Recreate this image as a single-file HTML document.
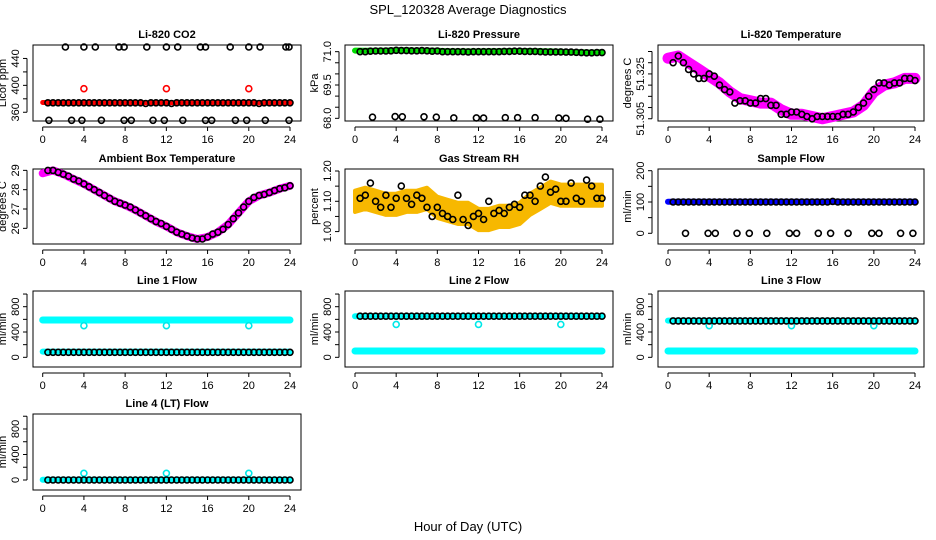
<!DOCTYPE html>
<html><head><meta charset="utf-8"><style>
html,body{margin:0;padding:0;background:#fff;}
svg{display:block;font-family:"Liberation Sans",sans-serif;}
</style></head><body>
<svg id="c" width="936" height="540" viewBox="0 0 936 540" xmlns="http://www.w3.org/2000/svg">
<text x="468" y="14" text-anchor="middle" font-size="13">SPL_120328  Average Diagnostics</text>
<text x="468" y="531" text-anchor="middle" font-size="13">Hour of Day (UTC)</text>
</svg>
<script>
// ---- data ----
const hours = [0,1,2,3,4,5,6,7,8,9,10,11,12,13,14,15,16,17,18,19,20,21,22,23,24];
const bt = [0.5,1,1.5,2,2.5,3,3.5,4,4.5,5,5.5,6,6.5,7,7.5,8,8.5,9,9.5,10,10.5,11,11.5,12,12.5,13,13.5,14,14.5,15,15.5,16,16.5,17,17.5,18,18.5,19,19.5,20,20.5,21,21.5,22,22.5,23,23.5,24];
const xTicks = [0,4,8,12,16,20,24];

const co2Band = [374.5,374.5,374.5,374.5,374.5,374.5,374.5,374.5,374.5,374,374,374,374,374,374,374,374,374,374,374,374,374,374,374,374];
const co2Black = [374,374,374,374,374,374,374,374,374,374,374,374,374,374,374,374,374,374,374,373,374,374,374,374,373,374,374,374,374,374,374,374,374,374,374,374,374,374,374,374,374,373,374,374,374,374,374,374];
const co2RedOutT = [4,12,20];
const co2RedOut = [395,395,395];
const co2HighT = [2.2,4,5.1,7.4,7.9,10.1,12,13.1,15.3,15.8,18.2,20,21.1,23.6,23.9];
const co2High = [457,457,457,457,457,457,457,457,457,457,457,457,457,457,457];
const co2LowT = [0.6,2.8,3.8,5.7,7.9,8.6,10.7,11.8,13.6,15.8,16.4,18.7,19.8,21.6,23.9];
const co2Low = [348,348,348,348,348,348,348,348,348,348,348,348,348,348,348];

const presBand = [71.05,71.04,71.04,71.05,71.06,71.06,71.05,71.05,71.04,71.02,71.01,71.01,71.01,71.02,71.02,71.03,71.03,71.03,71.02,71.01,71.0,70.98,70.97,70.96,70.97];
const presBlack = [71.0,71.0,71.02,71.03,71.03,71.03,71.04,71.06,71.05,71.05,71.04,71.04,71.05,71.04,71.02,71.03,71.0,71.0,71.0,71.0,71.0,70.99,71.0,71.0,71.0,71.0,71.0,71.0,71.01,71.01,71.02,71.02,71.01,71.01,71.01,71.0,70.99,70.99,70.99,70.99,70.98,70.98,70.97,70.96,70.95,70.95,70.96,70.96];
const presOutT = [1.7,3.9,4.6,6.7,7.9,9.6,11.8,12.5,14.6,15.8,17.5,19.8,20.5,22.6,23.8];
const presOut = [68.05,68.08,68.07,68.07,68.05,68.02,68.02,68.01,68.03,68.03,68.03,68.01,68.0,67.96,67.96];

const tempBand = [51.332,51.333,51.330,51.327,51.324,51.321,51.317,51.314,51.313,51.312,51.312,51.309,51.307,51.307,51.306,51.305,51.306,51.307,51.308,51.311,51.317,51.320,51.321,51.323,51.323];
const tempBlack = [51.330,51.333,51.330,51.327,51.325,51.323,51.323,51.325,51.324,51.320,51.318,51.317,51.312,51.313,51.313,51.312,51.312,51.314,51.314,51.311,51.311,51.307,51.307,51.308,51.308,51.307,51.306,51.305,51.306,51.306,51.306,51.306,51.306,51.307,51.307,51.308,51.310,51.312,51.315,51.318,51.321,51.321,51.320,51.321,51.321,51.323,51.323,51.322];

const ambBand = [28.85,29.0,28.8,28.55,28.3,28.0,27.7,27.4,27.2,26.95,26.65,26.35,26.1,25.8,25.6,25.45,25.55,25.8,26.2,26.8,27.4,27.7,27.85,28.05,28.2];
const ambBlack = [29.0,29.0,28.9,28.8,28.7,28.55,28.45,28.3,28.15,28.0,27.85,27.7,27.55,27.4,27.3,27.2,27.1,26.95,26.8,26.65,26.5,26.35,26.25,26.1,25.95,25.8,25.7,25.6,25.5,25.45,25.45,25.55,25.7,25.8,25.95,26.2,26.5,26.8,27.1,27.4,27.6,27.7,27.75,27.85,27.95,28.05,28.1,28.2];

const rhBand = [1.10,1.11,1.10,1.09,1.09,1.10,1.10,1.11,1.08,1.07,1.06,1.06,1.04,1.04,1.05,1.05,1.06,1.09,1.11,1.13,1.12,1.12,1.12,1.12,1.12];
const rhBlack = [1.11,1.12,1.16,1.10,1.08,1.12,1.08,1.11,1.15,1.11,1.09,1.12,1.11,1.08,1.05,1.08,1.06,1.05,1.04,1.12,1.04,1.02,1.05,1.06,1.04,1.10,1.06,1.07,1.06,1.08,1.09,1.08,1.12,1.12,1.10,1.15,1.18,1.13,1.14,1.10,1.10,1.16,1.11,1.10,1.17,1.15,1.11,1.11];

const sfBand = [101,101,101,101,101,101,101,101,101,101,101,101,101,101,101,101,101,101,101,101,101,101,101,101,101];
const sfBlack = [100,100,100,100,100,100,100,100,100,100,100,100,100,100,100,100,100,100,100,100,100,100,100,100,100,100,100,100,100,100,100,102,100,100,100,100,100,100,100,100,100,100,100,100,100,100,100,100];
const sfOutT = [1.7,3.9,4.6,6.7,7.9,9.6,11.8,12.5,14.6,15.8,17.5,19.8,20.5,22.6,23.8];
const sfOut = [0,0,0,0,0,0,0,0,0,0,0,0,0,0,0];

const outT = [4,12,20];
const l1High = [590,590,590,590,590,590,590,590,590,590,590,590,590,590,590,590,590,590,590,590,590,590,590,590,590];
const l1Low = [90,90,90,90,90,90,90,90,90,90,90,90,90,90,90,90,90,90,90,90,90,90,90,90,90];
const l1Black = 80;
const l1Out = [500,500,500];
const l2High = [650,650,650,650,650,650,650,650,650,650,650,650,650,650,650,650,650,650,650,650,650,650,650,650,650];
const l2Low = [100,100,100,100,100,100,100,100,100,100,100,100,100,100,100,100,100,100,100,100,100,100,100,100,100];
const l2Black = 650;
const l2Out = [520,520,520];
const l3High = [580,580,580,580,580,580,580,580,580,580,580,580,580,580,580,580,580,580,580,580,580,580,580,580,580];
const l3Low = [100,100,100,100,100,100,100,100,100,100,100,100,100,100,100,100,100,100,100,100,100,100,100,100,100];
const l3Black = 575;
const l3Out = [500,500,500];
const l4Band = [5,5,5,5,5,5,5,5,5,5,5,5,5,5,5,5,5,5,5,5,5,5,5,5,5];
const l4Black = 0;
const l4Out = [105,105,105];

// ---- layout ----
const NS = "http://www.w3.org/2000/svg";
const svg = document.getElementById('c');
const colL = [33,345,658], colR = [301,613,924], colX0 = [42.7,355,668], colX24 = [290,602,915];
const rowT = [45,169,291,414], rowB = [121,244,367,490];

function mk(tag, attrs, parent) {
  const e = document.createElementNS(NS, tag);
  for (const k in attrs) e.setAttribute(k, attrs[k]);
  (parent || svg).appendChild(e);
  return e;
}

function panel(name, c, r, title, ylab, ymin, ymax, ticks, labels, fmt) {
  const g = mk('g', {});
  
  
  const L = colL[c], R = colR[c], T = rowT[r], B = rowB[r];
  const sx = v => colX0[c] + (colX24[c] - colX0[c]) * v / 24;
  const sy = v => B - (v - ymin) / (ymax - ymin) * (B - T);
  const box = mk('rect', {x: L, y: T, width: R - L, height: B - T, fill: 'none', stroke: '#000', 'stroke-width': 1}, g);
  
  
  const t = mk('text', {x: (L + R) / 2, y: T - 7, 'text-anchor': 'middle', 'font-size': 11, 'font-weight': 'bold'}, g);
  t.textContent = title;
  
  
  // x axis
  const xa = mk('g', {}, g);
  
  
  mk('line', {x1: sx(0), x2: sx(24), y1: B + 6, y2: B + 6, stroke: '#000'}, xa);
  xTicks.forEach(v => {
    mk('line', {x1: sx(v), x2: sx(v), y1: B + 6, y2: B + 10, stroke: '#000'}, xa);
    const l = mk('text', {x: sx(v), y: B + 22, 'text-anchor': 'middle', 'font-size': 11}, xa);
    l.textContent = v;
    
    
  });
  // y axis
  const ya = mk('g', {}, g);
  
  
  mk('line', {x1: L - 6, x2: L - 6, y1: sy(ticks[0]), y2: sy(ticks[ticks.length - 1]), stroke: '#000'}, ya);
  ticks.forEach(v => mk('line', {x1: L - 10, x2: L - 6, y1: sy(v), y2: sy(v), stroke: '#000'}, ya));
  labels.forEach(v => {
    const x = L - 14, y = sy(v);
    const l = mk('text', {x: x, y: y, 'text-anchor': 'middle', 'font-size': 11, transform: 'rotate(-90 ' + x + ' ' + y + ')'}, ya);
    l.textContent = fmt ? fmt(v) : v;
    
    
  });
  const yx = L - 27, yy = (T + B) / 2;
  const yl = mk('text', {x: yx, y: yy, 'text-anchor': 'middle', 'font-size': 11, transform: 'rotate(-90 ' + yx + ' ' + yy + ')'}, g);
  yl.textContent = ylab;
  
  
  const clipId = 'clip' + name;
  const cp = mk('clipPath', {id: clipId}, g);
  mk('rect', {x: L, y: T - 4, width: R - L, height: B - T + 8}, cp);
  const dg = mk('g', {'clip-path': 'url(#' + clipId + ')'}, g);
  
  
  return {sx, sy, g: dg, name};
}

function band(p, xs, ys, color, w, nm) {
  const pts = xs.map((x, i) => p.sx(x).toFixed(1) + ',' + p.sy(ys[i]).toFixed(1)).join(' ');
  const e = mk('polyline', {points: pts, fill: 'none', stroke: color, 'stroke-width': w, 'stroke-linejoin': 'round', 'stroke-linecap': 'round'}, p.g);
  
  
}
function areaBand(p, xs, ys, half, color, nm) {
  const up = xs.map((x, i) => p.sx(x).toFixed(1) + ',' + p.sy(ys[i] + half).toFixed(1));
  const dn = xs.map((x, i) => p.sx(x).toFixed(1) + ',' + p.sy(ys[i] - half).toFixed(1)).reverse();
  const e = mk('polygon', {points: up.concat(dn).join(' '), fill: color, stroke: color, 'stroke-width': 4, 'stroke-linejoin': 'round'}, p.g);
  
  
}
function pts(p, xs, ys, color, nm, r, sw) {
  xs.forEach((x, i) => {
    const v = Array.isArray(ys) ? ys[i] : ys;
    const e = mk('circle', {cx: p.sx(x).toFixed(1), cy: p.sy(v).toFixed(1), r: r || 3, fill: 'none', stroke: color, 'stroke-width': sw || 1.6}, p.g);
    
    
  });
}
function rng(a, b, s) { const o = []; for (let v = a; v <= b + 1e-9; v += s) o.push(+v.toFixed(4)); return o; }

// Panel 1: CO2
let p = panel('co2', 0, 0, 'Li-820 CO2', 'Licor ppm', 347, 460, rng(360, 440, 20), [360, 400, 440]);
band(p, hours, co2Band, '#ff0000', 5, 'red-band');
pts(p, co2RedOutT, co2RedOut, '#ff0000', 'red-outlier');
pts(p, bt, co2Black, '#000', 'black-point');
pts(p, co2HighT, co2High, '#000', 'high-outlier');
pts(p, co2LowT, co2Low, '#000', 'low-outlier');

// Panel 2: Pressure
p = panel('pressure', 1, 0, 'Li-820 Pressure', 'kPa', 67.88, 71.3, rng(68, 71, 0.5), [68, 69.5, 71], v => v.toFixed(1));
band(p, hours, presBand, '#00dd00', 6, 'green-band');
pts(p, bt, presBlack, '#000', 'black-point');
pts(p, presOutT, presOut, '#000', 'low-outlier');

// Panel 3: Li-820 temp
p = panel('li820-temp', 2, 0, 'Li-820 Temperature', 'degrees C', 51.304, 51.3379, rng(51.305, 51.335, 0.005), [51.305, 51.325], v => v.toFixed(3));
band(p, hours, tempBand, '#ff00ff', 11, 'magenta-band');
pts(p, bt, tempBlack, '#000', 'black-point');

// Panel 4: Ambient
p = panel('ambient-temp', 0, 1, 'Ambient Box Temperature', 'degrees C', 25.19, 29.07, [26, 27, 28, 29], [26, 27, 28, 29]);
band(p, hours, ambBand, '#ff00ff', 8, 'magenta-band');
pts(p, bt, ambBlack, '#000', 'black-point');

// Panel 5: RH
p = panel('rh', 1, 1, 'Gas Stream RH', 'percent', 0.959, 1.2066, rng(1.0, 1.2, 0.05), [1.0, 1.1, 1.2], v => v.toFixed(2));
areaBand(p, hours, rhBand, 0.035, '#f7b800', 'orange-band');
pts(p, bt, rhBlack, '#000', 'black-point');

// Panel 6: Sample flow
p = panel('sample-flow', 2, 1, 'Sample Flow', 'ml/min', -34.2, 205.4, [0, 50, 100, 150, 200], [0, 100, 200]);
band(p, hours, sfBand, '#0000ff', 6, 'blue-band');
pts(p, bt, sfBlack, '#000', 'black-point');
pts(p, sfOutT, sfOut, '#000', 'zero-outlier');

const fTicks = [0, 200, 400, 600, 800, 1000], fLab = [0, 400, 800];
// Line 1
p = panel('line1-flow', 0, 2, 'Line 1 Flow', 'ml/min', -153, 1048, fTicks, fLab);
band(p, hours, l1High, '#00ffff', 7, 'cyan-high-band');
band(p, hours, l1Low, '#00ffff', 6, 'cyan-low-band');
pts(p, outT, l1Out, '#00e8e8', 'cyan-outlier');
pts(p, bt, l1Black, '#000', 'black-point');
// Line 2
p = panel('line2-flow', 1, 2, 'Line 2 Flow', 'ml/min', -153, 1048, fTicks, fLab);
band(p, hours, l2High, '#00ffff', 6, 'cyan-high-band');
band(p, hours, l2Low, '#00ffff', 7, 'cyan-low-band');
pts(p, outT, l2Out, '#00e8e8', 'cyan-outlier');
pts(p, bt, l2Black, '#000', 'black-point');
// Line 3
p = panel('line3-flow', 2, 2, 'Line 3 Flow', 'ml/min', -153, 1048, fTicks, fLab);
band(p, hours, l3High, '#00ffff', 6, 'cyan-high-band');
band(p, hours, l3Low, '#00ffff', 7, 'cyan-low-band');
pts(p, outT, l3Out, '#00e8e8', 'cyan-outlier');
pts(p, bt, l3Black, '#000', 'black-point');
// Line 4
p = panel('line4-flow', 0, 3, 'Line 4 (LT) Flow', 'ml/min', -157, 1035, fTicks, fLab);
band(p, hours, l4Band, '#00ffff', 6, 'cyan-band');
pts(p, outT, l4Out, '#00e8e8', 'cyan-outlier');
pts(p, bt, l4Black, '#000', 'black-point');
</script>
</body></html>
